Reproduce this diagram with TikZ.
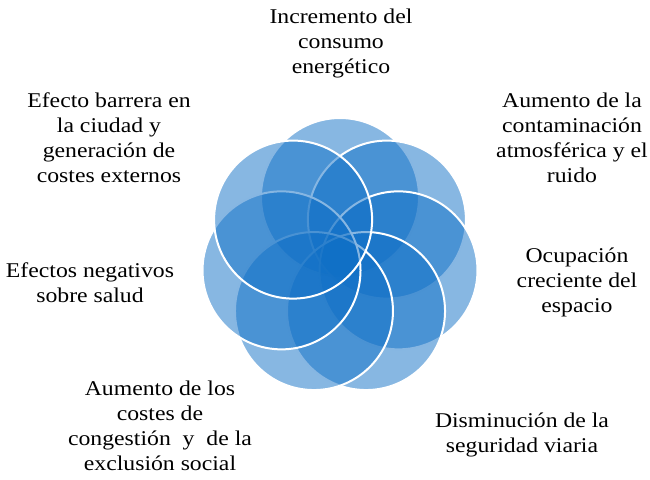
\documentclass[tikz,border=0pt]{standalone}
\usepackage{fontspec}
\setmainfont[FakeStretch=1.13]{Liberation Serif}
\definecolor{petalblue}{RGB}{15,111,198}
\tikzset{
  petal/.style={circle, minimum size=158pt, inner sep=0pt, fill=petalblue, fill opacity=0.5, draw=white, draw opacity=1, line width=2pt},
  lbl/.style={font=\fontsize{21}{25}\selectfont, align=center, inner sep=0pt, anchor=north, text=black}
}
\begin{document}
\begin{tikzpicture}[x=1pt,y=-1pt]
\useasboundingbox (0,0) rectangle (650,479);
\foreach \k in {0,...,6}{
  \node[petal] (c\k) at ({340+60*sin(\k*360/7)},{257-60*cos(\k*360/7)}) {};
}
\node[lbl] (l0) at (341,5.8) {\strut Incremento del\\\strut consumo\\\strut energético};
\node[lbl] (l1) at (572,89.5) {\strut Aumento de la\\\strut contaminación\\\strut atmosférica y el\\\strut ruido};
\node[lbl] (l2) at (577,244.5) {\strut Ocupación\\\strut creciente del\\\strut espacio};
\node[lbl] (l3) at (522,409.5) {\strut Disminución de la\\\strut seguridad viaria};
\node[lbl] (l4) at (160,377.5) {\strut Aumento de los\\\strut costes de\\\strut congestión~ y~ de la\\\strut exclusión social};
\node[lbl] (l5) at (90,259.5) {\strut Efectos negativos\\\strut sobre salud};
\node[lbl] (l6) at (109,89.5) {\strut Efecto barrera en\\\strut la ciudad y\\\strut generación de\\\strut costes externos};
\end{tikzpicture}
\end{document}
